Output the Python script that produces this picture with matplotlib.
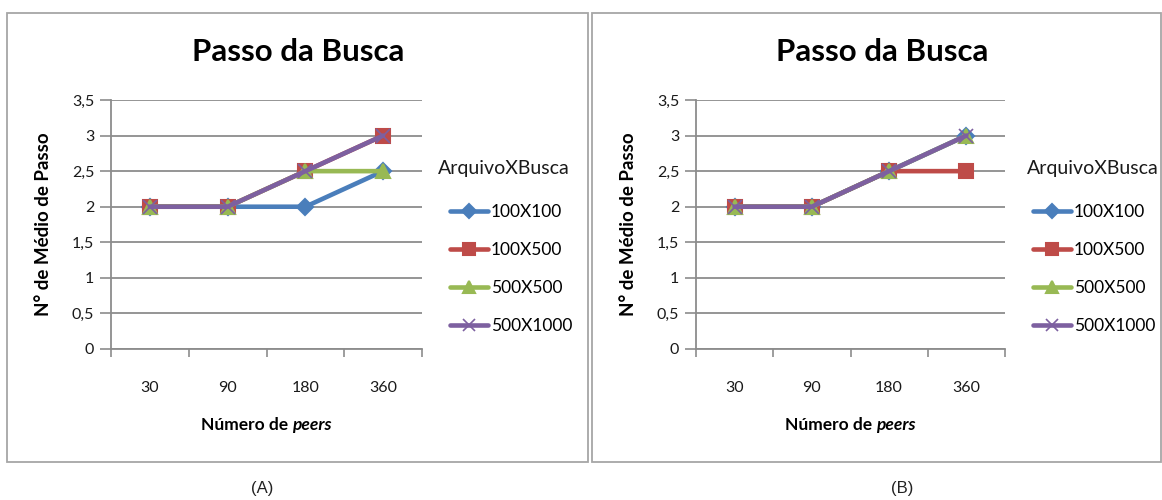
import matplotlib
matplotlib.use("Agg")
import matplotlib.pyplot as plt
from matplotlib.patches import Rectangle
from matplotlib.ticker import FuncFormatter, FixedLocator
import numpy as np

peers = ["30", "90", "180", "360"]
series = ["100X100", "100X500", "500X500", "500X1000"]

# painel (A)
a_100x100 = [2, 2, 2, 2.5]
a_100x500 = [2, 2, 2.5, 3]
a_500x500 = [2, 2, 2.5, 2.5]
a_500x1000 = [2, 2, 2.5, 3]

# painel (B)
b_100x100 = [2, 2, 2.5, 3]
b_100x500 = [2, 2, 2.5, 2.5]
b_500x500 = [2, 2, 2.5, 3]
b_500x1000 = [2, 2, 2.5, 3]

colors = ["#4A7EBB", "#BE4B48", "#98B954", "#7D60A0"]
markers = ["D", "s", "^", "x"]
msizes = [8, 10, 10, 10]

plt.rcParams['font.family'] = ['Lato', 'DejaVu Sans']

W, H = 1162, 500
fig = plt.figure(figsize=(W / 100, H / 100), dpi=100)


def fx(px):
    return px / W


def fy(py):
    return 1 - py / H


def comma(v, pos):
    return ("%g" % v).replace(".", ",")


def panel(x0, x1, box, vals, caption, cap_x, title_x, leg_title_x, leg_x):
    # moldura
    bx0, bx1 = box
    fig.patches.append(Rectangle((fx(bx0), fy(462)), fx(bx1 - bx0), (462 - 13) / H,
                                 transform=fig.transFigure, fill=False,
                                 edgecolor="#A6A6A6", linewidth=1.3))
    ax = fig.add_axes([fx(x0), fy(349), fx(x1 - x0), (349 - 100) / H])
    xs = np.arange(len(peers)) + 0.5
    for i, name in enumerate(series):
        ax.plot(xs, vals[i], color=colors[i], marker=markers[i], markersize=msizes[i],
                markeredgewidth=1.5 if markers[i] != "x" else 1.2,
                linewidth=3.3, label=name, zorder=3 + i, solid_capstyle="round")
    ax.set_xlim(0, 4)
    ax.set_ylim(0, 3.5)
    ax.set_yticks(np.arange(0, 3.51, 0.5))
    ax.yaxis.set_major_formatter(FuncFormatter(comma))
    ax.grid(axis="y", color="#8C8C8C", linewidth=1.3)
    ax.set_axisbelow(True)
    ax.xaxis.set_major_locator(FixedLocator([0, 1, 2, 3, 4]))
    ax.xaxis.set_minor_locator(FixedLocator(xs))
    ax.set_xticklabels([])
    ax.set_xticklabels(peers, minor=True)
    ax.tick_params(axis="x", which="major", length=6, width=1.2, color="#8C8C8C")
    ax.tick_params(axis="x", which="minor", length=0, pad=23, labelsize=11.5,
                   labelcolor="#1A1A1A")
    ax.tick_params(axis="y", length=8, width=1.2, color="#8C8C8C", labelsize=11.5,
                   labelcolor="#1A1A1A", pad=4)
    for s in ["top", "right"]:
        ax.spines[s].set_visible(False)
    for s in ["left", "bottom"]:
        ax.spines[s].set_color("#8C8C8C")
        ax.spines[s].set_linewidth(1.3)
    ax.set_ylabel("N° de Médio de Passo", fontsize=13.5, fontweight="bold")
    ax.yaxis.set_label_coords(-59 / (x1 - x0), 0.5)
    cx = (x0 + x1) / 2
    fig.text(fx(title_x), fy(52), "Passo da Busca", fontsize=22.5, fontweight="bold",
             ha="center", va="center")
    # rótulo do eixo x: "Número de" em negrito + "peers" em itálico
    t1 = fig.text(0, fy(425), "Número de ", fontsize=12.5, fontweight="bold", va="center")
    t2 = fig.text(0, fy(425), "peers", fontsize=12.5, fontweight="bold", style="italic",
                  va="center")
    r = fig.canvas.get_renderer()
    w1 = t1.get_window_extent(r).width
    w2 = t2.get_window_extent(r).width
    start = cx - (w1 + w2) / 2
    t1.set_x(fx(start))
    t2.set_x(fx(start + w1))
    fig.text(fx(leg_title_x), fy(168), "ArquivoXBusca", fontsize=14, va="center",
             color="#1A1A1A")
    ax.legend(loc="upper left", bbox_to_anchor=(fx(leg_x), fy(204)),
              bbox_transform=fig.transFigure, frameon=False, fontsize=12.5,
              handlelength=2.2, handletextpad=0.15, labelspacing=1.27,
              borderpad=0, borderaxespad=0, markerscale=0.85)
    fig.text(fx(cap_x), fy(489), caption, fontsize=12, ha="center", va="center",
             family="Liberation Sans", color="#222222")
    return ax


panel(111, 422, (7, 588), [a_100x100, a_100x500, a_500x500, a_500x1000],
      "(A)", 262, 298, 438, 450)
panel(696, 1005, (592, 1161), [b_100x100, b_100x500, b_500x500, b_500x1000],
      "(B)", 902, 882, 1027, 1033)

fig.savefig("out.png", dpi=100)
